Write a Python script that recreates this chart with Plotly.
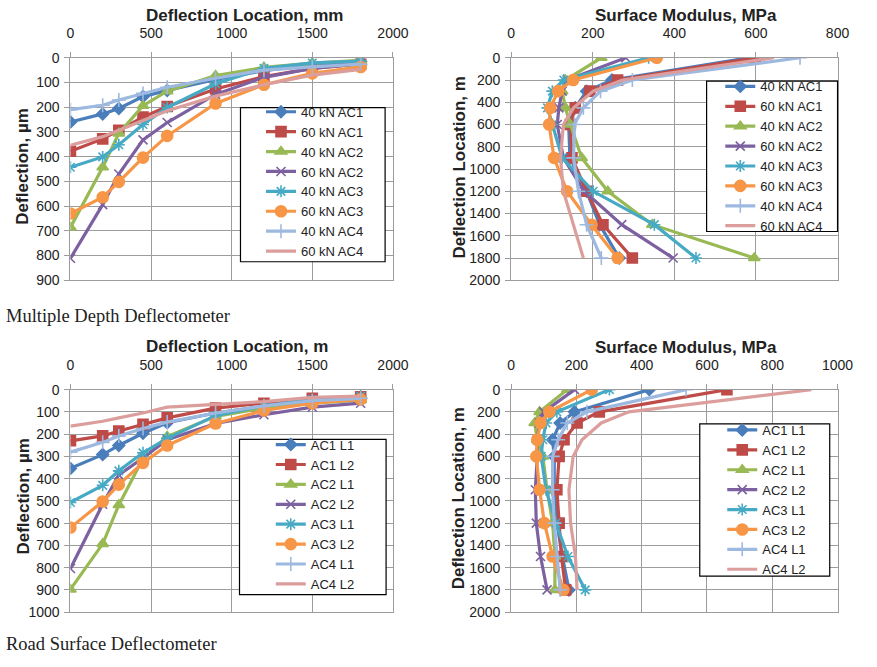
import plotly.graph_objects as go

W, H = 877, 667

# ---------------- data ----------------
locations = [0, 200, 300, 450, 600, 900, 1200, 1500, 1800]

mdd_names = ["40 kN AC1", "60 kN AC1", "40 kN AC2", "60 kN AC2",
             "40 kN AC3", "60 kN AC3", "40 kN AC4", "60 kN AC4"]
rsd_names = ["AC1 L1", "AC1 L2", "AC2 L1", "AC2 L2",
             "AC3 L1", "AC3 L2", "AC4 L1", "AC4 L2"]

# Multiple Depth Deflectometer - deflection (um)
mdd_defl_40_ac1 = [260, 227, 205, 157, 132, 88, 52, 28, 16]
mdd_defl_60_ac1 = [378, 328, 293, 240, 197, 126, 76, 43, 26]
mdd_defl_40_ac2 = [686, 443, 306, 194, 135, 72, 39, 22, 10]
mdd_defl_60_ac2 = [811, 594, 470, 332, 262, 148, 79, 43, 24]
mdd_defl_40_ac3 = [443, 401, 352, 270, 201, 105, 43, 21, 13]
mdd_defl_60_ac3 = [630, 564, 502, 404, 316, 185, 109, 63, 37]
mdd_defl_40_ac4 = [210, 192, 171, 144, 119, 83, 50, 37, 26]
mdd_defl_60_ac4 = [354, 319, 293, 253, 214, 155, 109, 70, 47]

# Multiple Depth Deflectometer - surface modulus (MPa)
mdd_mod_40_ac1 = [583, 247, 185, 157, 141, 144, 185, 217, 265]
mdd_mod_60_ac1 = [599, 261, 193, 157, 145, 149, 185, 225, 297]
mdd_mod_40_ac2 = [221, 133, 125, 133, 145, 173, 237, 346, 596]
mdd_mod_60_ac2 = [281, 137, 125, 117, 113, 128, 179, 271, 397]
mdd_mod_40_ac3 = [337, 129, 101, 89, 101, 125, 201, 351, 453]
mdd_mod_60_ac3 = [357, 152, 115, 96, 93, 105, 137, 197, 261]
mdd_mod_40_ac4 = [708, 297, 219, 177, 155, 153, 165, 185, 221]
mdd_mod_60_ac4 = [644, 273, 201, 153, 128, 121, 128, 152, 177]

# Road Surface Deflectometer - deflection (um)
rsd_defl_ac1_l1 = [354, 292, 251, 196, 149, 105, 75, 50, 40]
rsd_defl_ac1_l2 = [230, 208, 186, 156, 127, 83, 61, 39, 32]
rsd_defl_ac2_l1 = [898, 693, 518, 310, 211, 120, 83, 61, 47]
rsd_defl_ac2_l2 = [804, 515, 383, 307, 225, 152, 113, 79, 61]
rsd_defl_ac3_l1 = [507, 430, 365, 284, 219, 117, 73, 44, 29]
rsd_defl_ac3_l2 = [620, 503, 427, 329, 251, 152, 94, 61, 44]
rsd_defl_ac4_l1 = [281, 237, 208, 175, 146, 105, 73, 50, 39]
rsd_defl_ac4_l2 = [164, 142, 127, 105, 79, 66, 54, 35, 29]

# Road Surface Deflectometer - surface modulus (MPa)
rsd_mod_ac1_l1 = [423, 194, 150, 127, 132, 132, 140, 157, 177]
rsd_mod_ac1_l2 = [661, 270, 202, 162, 147, 140, 147, 154, 167]
rsd_mod_ac2_l1 = [172, 87, 72, 80, 97, 110, 127, 134, 134]
rsd_mod_ac2_l2 = [194, 100, 87, 80, 80, 74, 77, 90, 110]
rsd_mod_ac3_l1 = [301, 140, 107, 97, 92, 107, 137, 174, 227]
rsd_mod_ac3_l2 = [247, 117, 90, 80, 77, 87, 102, 127, 160]
rsd_mod_ac4_l1 = [536, 232, 172, 144, 127, 127, 132, 140, 150]
rsd_mod_ac4_l2 = [920, 361, 276, 217, 190, 177, 182, 197, 202]

mdd_defl = [mdd_defl_40_ac1, mdd_defl_60_ac1, mdd_defl_40_ac2, mdd_defl_60_ac2,
            mdd_defl_40_ac3, mdd_defl_60_ac3, mdd_defl_40_ac4, mdd_defl_60_ac4]
mdd_mod = [mdd_mod_40_ac1, mdd_mod_60_ac1, mdd_mod_40_ac2, mdd_mod_60_ac2,
           mdd_mod_40_ac3, mdd_mod_60_ac3, mdd_mod_40_ac4, mdd_mod_60_ac4]
rsd_defl = [rsd_defl_ac1_l1, rsd_defl_ac1_l2, rsd_defl_ac2_l1, rsd_defl_ac2_l2,
            rsd_defl_ac3_l1, rsd_defl_ac3_l2, rsd_defl_ac4_l1, rsd_defl_ac4_l2]
rsd_mod = [rsd_mod_ac1_l1, rsd_mod_ac1_l2, rsd_mod_ac2_l1, rsd_mod_ac2_l2,
           rsd_mod_ac3_l1, rsd_mod_ac3_l2, rsd_mod_ac4_l1, rsd_mod_ac4_l2]

# ---------------- styles ----------------
colors = ["#4A7EBB", "#BE4B48", "#98B954", "#7D60A0",
          "#46AAC5", "#F79646", "#9DB9E0", "#DC9E9D"]
symbols = ["diamond", "square", "triangle-up", "x-thin-open",
           "asterisk-open", "circle", "cross-thin-open", None]
msizes = [9, 10, 10, 9, 10, 11, 10, 0]

FONT = "Liberation Sans, Arial, sans-serif"
GRID = "#9C9C9C"

def px(x):
    return x / W

def py(y):
    return 1 - y / H

fig = go.Figure()

panels = [
    (mdd_names, "deflection", mdd_defl, 1),
    (mdd_names, "modulus", mdd_mod, 2),
    (rsd_names, "deflection", rsd_defl, 3),
    (rsd_names, "modulus", rsd_mod, 4),
]

for names, kind, series, k in panels:
    xa = "x" if k == 1 else f"x{k}"
    ya = "y" if k == 1 else f"y{k}"
    lg = "legend" if k == 1 else f"legend{k}"
    for i, (nm, vals) in enumerate(zip(names, series)):
        if kind == "deflection":
            xs, ys = locations, vals
        else:
            xs, ys = vals, locations
        sym = symbols[i]
        if sym is None:
            mode = "lines"
            marker = dict()
        else:
            mode = "lines+markers"
            marker = dict(symbol=sym, size=msizes[i], color=colors[i],
                          line=dict(width=1.6, color=colors[i]))
        fig.add_trace(go.Scatter(
            x=xs, y=ys, name=nm, mode=mode, xaxis=xa, yaxis=ya,
            legend=lg, line=dict(color=colors[i], width=3.2),
            marker=marker))

# plot areas (pixels)
areas = {
    1: (68, 398, 51, 279),
    2: (519, 853, 51, 279),
    3: (68, 398, 391, 619),
    4: (519, 853, 391, 619),
}
xranges = {1: ([0, 2000], 500), 2: ([0, 800], 200), 3: ([0, 2000], 500), 4: ([0, 1000], 200)}
yranges = {1: ([900, 0], 100), 2: ([2000, 0], 200), 3: ([1000, 0], 100), 4: ([2000, 0], 200)}

layout = dict()
for k, (x0, x1, y0, y1) in areas.items():
    xk = "xaxis" if k == 1 else f"xaxis{k}"
    yk = "yaxis" if k == 1 else f"yaxis{k}"
    anchor_y = "y" if k == 1 else f"y{k}"
    anchor_x = "x" if k == 1 else f"x{k}"
    common = dict(tick0=0, showgrid=True, gridcolor=GRID, gridwidth=1,
                  showline=True, linecolor=GRID, linewidth=1, mirror=True,
                  zeroline=False, ticks="outside", ticklen=5, tickcolor=GRID,
                  tickfont=dict(family=FONT, size=14, color="#222222"))
    layout[xk] = dict(domain=[px(x0), px(x1)], range=xranges[k][0], dtick=xranges[k][1],
                      side="top", anchor=anchor_y, ticklabelstandoff=8, **common)
    layout[yk] = dict(domain=[py(y1), py(y0)], range=yranges[k][0], dtick=yranges[k][1],
                      anchor=anchor_x, ticklabelstandoff=2, **common)

# legend boxes (pixels): left, top, right, bottom
legend_boxes = {1: (242, 102, 390, 260), 2: (719, 75, 853, 229),
                3: (241, 442, 391, 601), 4: (712, 426, 845, 582)}
# legend entry placement (pixels): text start x, first entry centre y
legend_entries = {1: (303, 111), 2: (773, 85), 3: (313, 452), 4: (775, 437)}
shapes = []
for k, (l, t, r, b) in legend_boxes.items():
    shapes.append(dict(type="rect", xref="paper", yref="paper",
                       x0=px(l), x1=px(r), y0=py(b), y1=py(t),
                       line=dict(color="black", width=1.2), fillcolor="white",
                       layer="above"))
    lk = "legend" if k == 1 else f"legend{k}"
    tx, cy = legend_entries[k]
    layout[lk] = dict(x=px(tx - 40), y=py(cy - 20), xanchor="left", yanchor="top",
                      bgcolor="rgba(0,0,0,0)", borderwidth=0,
                      font=dict(family=FONT, size=13, color="#222222"),
                      tracegroupgap=0)

title_font = dict(family=FONT, size=17, color="#222222", weight="bold")
annotations = [
    dict(text="Deflection Location, mm", x=px(246), y=py(8)),
    dict(text="Surface Modulus, MPa", x=px(698), y=py(8)),
    dict(text="Deflection Location, m", x=px(238), y=py(347)),
    dict(text="Surface Modulus, MPa", x=px(698), y=py(348)),
    dict(text="Deflection, µm", x=px(19), y=py(162), textangle=-90),
    dict(text="Deflection Location, m", x=px(466), y=py(163), textangle=-90),
    dict(text="Deflection, µm", x=px(19), y=py(500), textangle=-90),
    dict(text="Deflection Location, m", x=px(466), y=py(502), textangle=-90),
]
for a in annotations:
    a.update(xref="paper", yref="paper", showarrow=False, font=title_font,
             xanchor="center", yanchor="middle")

cap_font = dict(family="Liberation Serif, Times New Roman, serif", size=18.5, color="#222222")
annotations += [
    dict(text="Multiple Depth Deflectometer", x=0, y=py(316), xref="paper", yref="paper",
         showarrow=False, font=cap_font, xanchor="left", yanchor="middle"),
    dict(text="Road Surface Deflectometer", x=0, y=py(652), xref="paper", yref="paper",
         showarrow=False, font=cap_font, xanchor="left", yanchor="middle"),
]

fig.update_layout(
    width=W, height=H, margin=dict(l=0, r=0, t=0, b=0),
    paper_bgcolor="white", plot_bgcolor="white",
    shapes=shapes, annotations=annotations, showlegend=True,
    font=dict(family=FONT),
    **layout,
)

fig.write_html("out.html")
